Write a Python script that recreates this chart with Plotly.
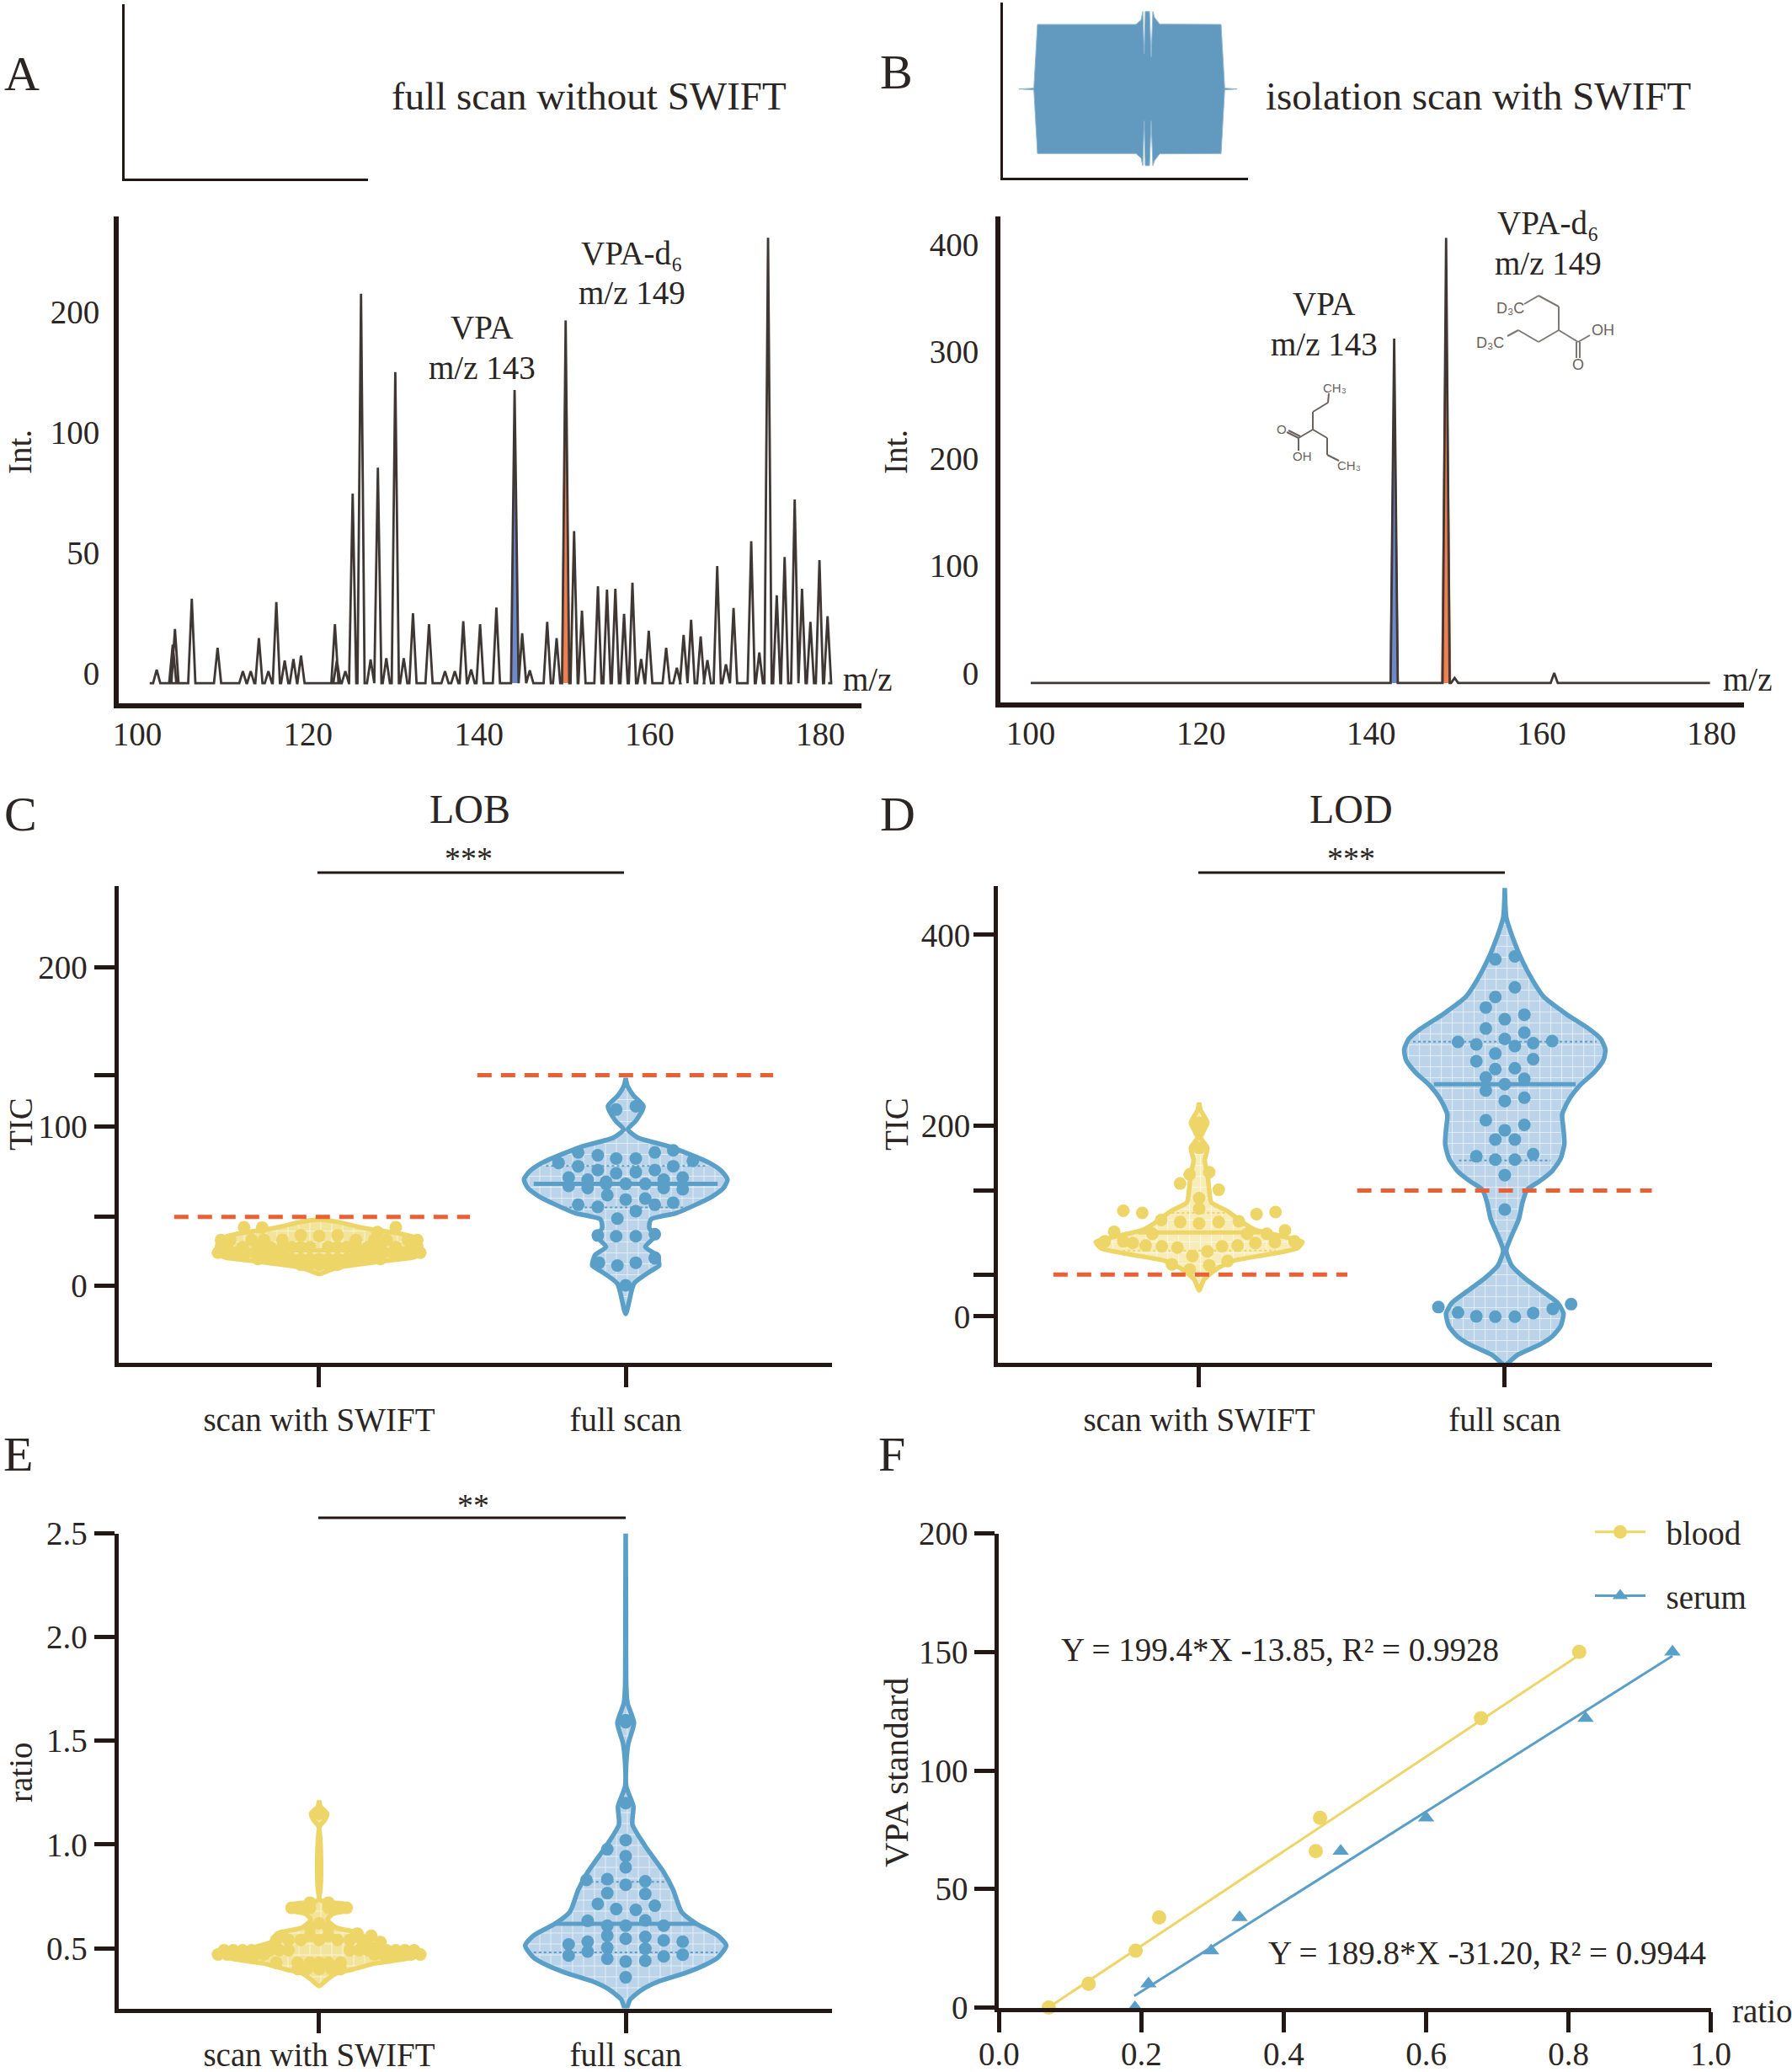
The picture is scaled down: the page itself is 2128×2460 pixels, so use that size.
#!/usr/bin/env python3
"""SWIFT scan figure: two spectra with insets, three violin panels, calibration lines."""

import plotly.graph_objects as go

W, H = 2128, 2460
FONT = "Liberation Serif"
INK = "#2b2523"
AXIS = "#231815"
YELLOW = "#eed568"
BLUE = "#5a9fc8"
ORANGE = "#ea5f34"

# panel A peaks (m/z as drawn, height on the drawn scale: tick 200 sits at 150)
a_mz = [102.27, 104.15, 104.41, 106.38, 109.40, 112.36, 113.28, 114.24, 115.35, 116.28,
        117.26, 118.28, 119.17, 123.14, 123.37, 124.36, 125.22, 126.20, 127.32, 128.17,
        129.16, 130.21, 131.20, 132.28, 134.16, 136.03, 137.18, 138.17, 139.09, 140.14,
        142.05, 144.18, 145.07, 145.96, 148.00, 149.10, 150.16, 151.15, 152.07, 153.94,
        155.00, 155.98, 157.00, 157.98, 159.00, 159.89, 161.93, 163.18, 163.97, 164.85,
        165.97, 166.76, 167.91, 168.93, 169.82, 171.89, 172.84, 173.86, 174.88, 175.80,
        176.98, 177.84, 178.82, 179.88, 180.83]
a_int = [1.4, 11.8, 18.3, 30.9, 10.5, 0.8, 0.8, 14.5, 0.8, 29.5,
         5.2, 5.8, 7.2, 20.3, 5.2, 0.8, 74.5, 157.4, 5.6, 85.2,
         6.2, 124.9, 6.2, 24.8, 20.3, 0.8, 0.8, 21.5, 1.5, 20.3,
         27.2, 117.5, 16.5, 1.1, 21.2, 14.5, 146.3, 58.9, 25.9, 36.0,
         34.6, 35.0, 24.6, 37.5, 5.8, 17.6, 10.5, 2.2, 15.8, 22.1,
         15.2, 5.4, 44.4, 3.6, 27.0, 54.7, 8.5, 180.7, 32.3, 48.2,
         72.0, 35.0, 21.2, 46.9, 23.6]
a_ticks = [100, 120, 140, 160, 180]
a_ytick_at = [0, 50, 100, 150]
a_ytick_text = ["0", "50", "100", "200"]

# panel B peaks
b_mz = [142.7, 148.8, 149.8, 161.5]
b_int = [312, 406, -4.7, 0]
b_yticks = [0, 100, 200, 300, 400]

# inset B waveform envelope
env_t = [21, 38.7, 43, 160, 166, 168, 169.7, 171, 176, 178, 180, 182, 188, 261, 265.3, 280]
env_up = [0, 1, 76.7, 76.7, 82, 92, 42, 92, 92, 38, 92, 85, 77, 76.7, 1, 0]
env_lo = [0, -1, -76.6, -76.6, -82, -91, -38, -91, -91, -38, -91, -85, -77, -76.6, -1, 0]

groups = ["scan with SWIFT", "full scan"]

# panel C, LOB
c_swift_y = [7.1, 11, 15, 17.6, 20.3, 25.5, 29.5, 32.1, 36, 40, 41.4]
c_swift_w = [0, .055, .2, .31, .332, .332, .319, .273, .146, .055, 0]
c_swift_off = [-.33, -.30, -.27, -.24, -.21, -.18, -.15, -.12, .12, .15, .18, .21, .24, .27, .30, .33,
               -.2, -.16, -.125, -.09, -.06, -.03, 0, .03, .06, .09, .125, .16, .2,
               -.06, -.03, 0, .03, .06,
               -.3, -.25, -.2, -.16, -.12, -.09, -.06, -.03, .03, .06, .09, .12, .16, .2, .25, .3,
               -.32, -.29, -.22, -.18, -.12, .12, .18, .22, .29, .32,
               -.06, 0, .06, -.245, -.186, .19, .25]
c_swift_val = [20.5] * 16 + [16.5] * 13 + [13] * 5 + [24] * 16 + [28.5] * 10 + \
              [31.5, 31, 31.5, 36.5, 36.3, 33.5, 36.5]
c_full_y = [-18, 1, 9, 12.4, 19, 24.2, 30.8, 36, 41.4, 45.3, 50.6, 55.8, 61.1, 66.4, 71.7,
            76.9, 82.2, 87.5, 92.7, 98, 103.3, 112.5, 119.1, 125.7, 130.2]
c_full_w = [0, .027, .082, .109, .1, .064, .095, .077, .082, .164, .228, .282, .319, .332, .313,
            .273, .21, .137, .04, .007, .033, .058, .026, .005, 0]
c_full_off = [0, -.087, -.027, .033, .095, .095, -.091, -.031, .033, .095, -.027, .033,
              -.155, -.091, 0, .064, .095, .155, -.06,
              -.186, -.124, -.064, 0, .064, .124, .186, -.186, -.124, -.064, .124, .186,
              -.155, -.091, -.031, .033, .095, .155,
              -.219, -.091, -.031, .033, .095, .155, .219, -.155, -.031, .033]
c_full_val = [0, 14.2, 12.4, 14.2, 16.9, 17.5, 31.3, 30.8, 30.8, 32.1, 41.9, 46.6,
              50.6, 49.3, 53.9, 54.5, 50.6, 51.9, 56.6,
              62.4, 61.1, 63.7, 63.7, 63.7, 61.1, 60.3, 67.7, 66.4, 65.1, 66.4, 67.7,
              74.8, 72.4, 70.4, 71.1, 72.4, 74.8,
              76.9, 81.7, 79.6, 79.6, 83.5, 84.8, 78.2, 83.5, 110.4, 112.5]
c_yticks = [0, 100, 200]
c_yminor = [43, 132]

# panel D, LOD
d_swift_y = [27.3, 38.3, 49.3, 58.1, 64.7, 71.3, 77.9, 84.4, 91, 99.8, 110.8, 119.6, 132.8,
             150.3, 163.5, 176.7, 187.7, 203.1, 216.2, 224.2]
d_swift_w = [0, .015, .055, .11, .219, .32, .338, .265, .183, .137, .091, .04, .033,
             .027, .018, .027, .005, .027, .005, 0]
d_swift_off = [0, 0, -.062, -.031, .033, .064, -.248, -.186, .188, .25,
               -.124, -.062, 0, .064, .13, -.278, -.153, .157, .281, .221,
               -.309, -.248, -.217, -.175, -.122, -.071, .075, .126, .184, .248, .312,
               -.022, .027, -.089, -.031, .033, .093, 0, 0, 0]
d_swift_val = [124, 113, 139.4, 149, 151.2, 132.8, 110.8, 108.6, 107.3, 109.5,
               101.1, 99, 97.6, 99, 99.8, 88.8, 86.7, 86.7, 90.2, 86.7,
               78.7, 78.7, 77, 74.4, 73.5, 72.2, 73.5, 74.4, 77, 77.9, 78.7,
               63.4, 68.2, 54.6, 49.3, 53.7, 58.1, 203.1, 176.7, 194]
d_full_y = [-50.8, -40.7, -29.8, -21, -10, 3.2, 14.2, 27.3, 40.5, 53.7, 69.1, 84.4, 102, 119.6,
            132.8, 141.6, 152.5, 165.7, 181.1, 196.5, 211.9, 227.2, 242.6, 255.8, 269, 279.9,
            291, 301.9, 317.3, 334.9, 352.4, 374.4, 400.8, 418.3, 449.1]
d_full_w = [0, .04, .113, .155, .183, .192, .173, .119, .064, .022, .005, .022, .046, .058,
            .073, .113, .155, .183, .195, .192, .188, .21, .247, .292, .323, .329,
            .314, .274, .2, .128, .091, .055, .022, .005, 0]
d_full_off = [-.031, .033, .033, -.031, -.062, .064, 0, -.062, .064, -.153, -.093, 0, .033, .093,
              .155, -.031, -.093, .093, -.031, .033, -.062, .064, 0, -.062, 0, .064, -.062, .064,
              0, -.031, .033, -.093, -.031, .033, .093, 0, 0,
              -.217, -.153, -.093, -.031, .033, .093, .157, .217]
d_full_val = [374.4, 377.5, 345, 334.9, 323.9, 316.4, 311.6, 301.9, 297.5, 287.8, 285.2, 290.9,
              283.5, 286.5, 288.7, 275.6, 267.6, 269.8, 259.3, 260.2, 250.5, 249.2, 243.5, 236.9,
              225.9, 229.4, 205.7, 200.9, 195.2, 185.5, 185.5, 167.9, 164.4, 164.4, 170.1, 148.2,
              112.1, 9.8, 4.1, .1, -.3, -.3, 3.6, 8, 12.9]
d_yticks = [0, 200, 400]
d_yminor = [44, 132]

# panel E, ratio
e_swift_y = [.318, .35, .379, .398, .427, .446, .465, .484, .503, .532, .571, .6, .638, .666,
             .685, .714, .733, 1.088, 1.117, 1.149, 1.184, 1.212]
e_swift_w = [0, .027, .055, .109, .182, .273, .319, .337, .219, .155, .137, .055, .027, .046,
             .1, .082, .004, .002, .018, .026, .004, 0]
e_swift_off = [-.09, -.06, -.03, .03, .06, .09, -.03, .03,
               -.31, -.28, -.25, -.22, -.19, -.16, -.13, -.1, .1, .13, .16, .19, .22, .25, .28, .31,
               -.33, -.3, -.27, -.24, -.21, -.18, .18, .21, .24, .27, .3, .33,
               -.14, -.1, -.06, 0, .06, .1, .14,
               -.12, -.03, .03, .12, .17, .2, .125,
               -.14, -.07, -.03, 0, .03, .07, -.07, -.04, 0, .04, .07, 0, -.03, .03, 0, 0]
e_swift_val = [.695] * 6 + [.72] * 2 + [.49] * 16 + [.47] * 12 + [.54] * 7 + \
              [.56, .56, .56, .56, .56, .53, .57] + [.43] * 6 + [.4] * 5 + [.62, .6, .6, 1.149, 1.15]
e_full_y = [.2, .254, .302, .341, .379, .417, .456, .513, .561, .618, .676, .781, .867, .992,
            1.097, 1.184, 1.28, 1.394, 1.49, 1.586, 1.682, 1.758, 2.14, 2.5]
e_full_w = [0, .015, .055, .109, .191, .255, .301, .328, .301, .231, .182, .155, .124, .064,
            .022, .025, .002, .002, .009, .027, .006, .002, .001, 0]
e_full_off = [0, -.06, 0, 0, -.128, -.06, .064, 0, -.06, .064, -.091, .095, -.031, .033, -.124,
              .064, -.06, 0, .124, -.06, 0, .064, .124, .186, -.186, -.124, -.06, .064, -.124,
              -.186, -.06, 0, .064, .124, .186, 0, 0, 0, 0]
e_full_val = [1.021, .977, .944, .89, .829, .833, .823, .806, .766, .762, .714, .705, .689, .685,
              .632, .634, .609, .609, .609, .561, .546, .555, .538, .532, .519, .532, .503, .498,
              .484, .465, .45, .436, .44, .461, .469, .36, 1.2, 1.59, 1.6]
e_yticks = [.5, 1, 1.5, 2, 2.5]
e_ytext = ["0.5", "1.0", "1.5", "2.0", "2.5"]

# panel F, calibration
blood_x = [.07, .126, .192, .225, .445, .451, .677, .815]
serum_x = [.191, .21, .298, .338, .48, .6, .824, .946]
standard_y = [0, 10, 24, 38, 66, 80, 122, 150]
blood_fit_x, blood_fit_y = [.07, .815], [.1, 148.7]
serum_fit_x, serum_fit_y = [.19, .946], [4.9, 148.3]
f_xticks = [0, .2, .4, .6, .8, 1]
f_xtext = ["0.0", "0.2", "0.4", "0.6", "0.8", "1.0"]
f_yticks = [0, 50, 100, 150, 200]

# line drawings of the two molecules, pixel positions on the page
VPA_BONDS = [
    [(1578, 467), (1577, 478), (1559, 489), (1559, 510), (1576, 520), (1576, 540), (1590, 547)],
    [(1559, 510), (1542, 520), (1542, 535)],
    [(1542, 520), (1528, 513)],
    [(1544, 518), (1530, 511)],
]
D6_BONDS = [
    [(1810, 361), (1827, 351), (1851, 364), (1851, 392), (1874, 406)],
    [(1790, 399), (1803, 392), (1827, 406), (1851, 392)],
    [(1874, 406), (1888, 398)],
    [(1872, 406), (1872, 425)],
    [(1876, 406), (1876, 425)],
]


def txt(fig, s, x, y, size=39, angle=0, color=INK, anchor="center", family=FONT):
    fig.add_annotation(text=s, x=x / W, y=1 - y / H, xref="paper", yref="paper", showarrow=False,
                       xanchor=anchor, yanchor="middle", textangle=angle,
                       font=dict(family=family, size=size, color=color))


def seg(fig, pts, color=AXIS, width=2.5):
    for (x0, y0), (x1, y1) in zip(pts[:-1], pts[1:]):
        fig.add_shape(type="line", xref="paper", yref="paper", x0=x0 / W, x1=x1 / W,
                      y0=1 - y0 / H, y1=1 - y1 / H, line=dict(color=color, width=width))


def set_axes(fig, i, left, right, top, bottom, xr, yr, lw=5, pin_zero=False, **kw):
    # plotly draws the axis line outside the domain, so pull the domain in by half a line
    shift = lw / 2
    if not pin_zero:
        x_per_px = (xr[1] - xr[0]) / (right - left)
        y_per_px = (yr[1] - yr[0]) / (bottom - top)
        xr = [xr[0] + shift * x_per_px, xr[1]]
        yr = [yr[0] + shift * y_per_px, yr[1]]
    left, bottom = left + shift, bottom - shift
    xa = dict(domain=[left / W, right / W], range=xr, anchor=f"y{i}", showgrid=False, zeroline=False,
              automargin=False, showline=True, linecolor=AXIS, linewidth=lw, ticks="outside", tickcolor=AXIS,
              tickwidth=4.5, ticklen=24, tickfont=dict(family=FONT, size=39, color=INK))
    ya = dict(domain=[1 - bottom / H, 1 - top / H], range=yr, anchor=f"x{i}", showgrid=False, zeroline=False,
              automargin=False, showline=True, linecolor=AXIS, linewidth=lw, ticks="outside", tickcolor=AXIS,
              tickwidth=4.5, ticklen=24, tickfont=dict(family=FONT, size=39, color=INK))
    xa.update(kw.get("x", {}))
    ya.update(kw.get("y", {}))
    fig.update_layout({f"xaxis{i}": xa, f"yaxis{i}": ya})


def spectrum(fig, i, mz, heights, base, half, start, end):
    xs, ys = [start], [base]
    for m, h in sorted(zip(mz, heights)):
        xs += [m - half, m, m + half]
        ys += [base, h, base]
    xs.append(end)
    ys.append(base)
    fig.add_trace(go.Scatter(x=xs, y=ys, mode="lines", line=dict(color="#3f3734", width=2.8),
                             showlegend=False, xaxis=f"x{i}", yaxis=f"y{i}", hoverinfo="skip"))


def filled_peak(fig, i, m, h, base, half, color):
    fig.add_trace(go.Scatter(x=[m - half, m, m + half], y=[base, h, base], mode="lines", fill="toself",
                             fillcolor=color, line=dict(color=color, width=1), showlegend=False,
                             xaxis=f"x{i}", yaxis=f"y{i}", hoverinfo="skip"))


def violin(fig, i, center, ys, ws, off, vals, color, fill, median=None, quart=()):
    xs = [center - w for w in ws] + [center + w for w in reversed(ws)]
    yy = list(ys) + list(reversed(ys))
    fig.add_trace(go.Scatter(x=xs, y=yy, mode="lines", fill="toself",
                             line=dict(color=color, width=5.5, shape="spline", smoothing=0.6),
                             fillpattern=dict(shape="+", size=13, solidity=0.12, fgcolor="#ffffff",
                                              bgcolor=fill, fgopacity=0.7),
                             showlegend=False, cliponaxis=False, xaxis=f"x{i}", yaxis=f"y{i}", hoverinfo="skip"))
    for q, w in quart:
        fig.add_trace(go.Scatter(x=[center - w, center + w], y=[q, q], mode="lines", cliponaxis=False,
                                 line=dict(color=color, width=2, dash="dot"), showlegend=False,
                                 xaxis=f"x{i}", yaxis=f"y{i}", hoverinfo="skip"))
    if median:
        fig.add_trace(go.Scatter(x=[center - median[1], center + median[1]], y=[median[0]] * 2, mode="lines",
                                 line=dict(color=color, width=5), showlegend=False, cliponaxis=False,
                                 xaxis=f"x{i}", yaxis=f"y{i}", hoverinfo="skip"))
    fig.add_trace(go.Scatter(x=[center + o for o in off], y=vals, mode="markers", cliponaxis=False,
                             marker=dict(color=color, size=15, line=dict(width=0)), showlegend=False,
                             xaxis=f"x{i}", yaxis=f"y{i}", hoverinfo="skip"))


def dashed(fig, i, x0, x1, y):
    fig.add_trace(go.Scatter(x=[x0, x1], y=[y, y], mode="lines", cliponaxis=False,
                             line=dict(color=ORANGE, width=5, dash="17px,11px"), showlegend=False,
                             xaxis=f"x{i}", yaxis=f"y{i}", hoverinfo="skip"))


fig = go.Figure()
fig.update_layout(width=W, height=H, margin=dict(l=0, r=0, t=0, b=0), autosize=False,
                  paper_bgcolor="white", plot_bgcolor="rgba(0,0,0,0)",
                  font=dict(family=FONT, color=INK),
                  legend=dict(x=1889 / W, y=1 - 1787 / H, xanchor="left", yanchor="top", itemwidth=60,
                              font=dict(family=FONT, size=39, color=INK), tracegroupgap=22,
                              bgcolor="rgba(0,0,0,0)", itemsizing="trace"))

# panels A and B, spectra
x_hidden = dict(ticks="", ticklen=0, ticklabelstandoff=-3)
set_axes(fig, 2, 138, 1023, 257, 838, [97.53, 184.8], [-13.6, 189.5], lw=6,
         x=dict(tickvals=a_ticks, **x_hidden),
         y=dict(tickvals=a_ytick_at, ticktext=a_ytick_text, ticklen=9, tickcolor="rgba(0,0,0,0)"))
filled_peak(fig, 2, a_mz[31], a_int[31], -4.2, 0.45, "#6f88c8")
filled_peak(fig, 2, a_mz[36], a_int[36], -4.2, 0.5, "#ee7f50")
spectrum(fig, 2, a_mz, a_int, -4.2, 0.42, 101.45, 180.9)

set_axes(fig, 3, 1185, 2071, 257, 837, [96.14, 183.8], [-29.9, 426], lw=6,
         x=dict(tickvals=a_ticks, **x_hidden),
         y=dict(tickvals=b_yticks, ticklen=12, tickcolor="rgba(0,0,0,0)"))
filled_peak(fig, 3, b_mz[0], b_int[0], -9.4, 0.5, "#6f88c8")
filled_peak(fig, 3, b_mz[1], b_int[1], -9.4, 0.55, "#ee7f50")
spectrum(fig, 3, b_mz, b_int, -9.4, 0.42, 100, 179.8)

# insets
no_ticks = dict(showticklabels=False, ticks="")
set_axes(fig, 8, 146, 437, 5, 213, [0, 1], [0, 1], lw=3, x=no_ticks, y=no_ticks)
fig.add_trace(go.Scatter(x=[None], y=[None], xaxis="x8", yaxis="y8", showlegend=False))
set_axes(fig, 9, 1189, 1482, 3, 212, [0, 293], [-106.3, 102.7], lw=3, x=no_ticks, y=no_ticks)
fig.add_trace(go.Scatter(x=env_t + env_t[::-1], y=env_up + env_lo[::-1], mode="lines", fill="toself",
                         fillcolor="#6299bf", line=dict(color="#8fb6d0", width=1), showlegend=False,
                         xaxis="x9", yaxis="y9", hoverinfo="skip"))

# panels C, D, E
cat_x = dict(tickvals=[1, 2], ticktext=groups, ticklabelstandoff=5)
minor_style = dict(ticks="outside", ticklen=24, tickwidth=4.5, tickcolor=AXIS)
set_axes(fig, 4, 138, 988, 1052, 1620.5, [0.338, 2.673], [-50, 250.8], x=cat_x,
         y=dict(tickvals=c_yticks, minor=dict(tickvals=c_yminor, **minor_style)))
violin(fig, 4, 1, c_swift_y, c_swift_w, c_swift_off, c_swift_val, YELLOW, "#f3e49c", median=(22, .33))
violin(fig, 4, 2, c_full_y, c_full_w, c_full_off, c_full_val, BLUE, "#bcd4e9", median=(63.7, .3),
       quart=[(75, .26), (49, .2)])
dashed(fig, 4, .527, 1.492, 43)
dashed(fig, 4, 1.516, 2.481, 132)

set_axes(fig, 5, 1182.6, 2033, 1052, 1620.5, [0.335, 2.678], [-50.8, 451.2], x=cat_x,
         y=dict(tickvals=d_yticks, ticklabelstandoff=-4, minor=dict(tickvals=d_yminor, **minor_style)))
violin(fig, 5, 1, d_swift_y, d_swift_w, d_swift_off, d_swift_val, YELLOW, "#f8ecb8", median=(88, .2),
       quart=[(108.6, .09), (69, .25)])
violin(fig, 5, 2, d_full_y, d_full_w, d_full_off, d_full_val, BLUE, "#bcd4e9", median=(243.5, .232),
       quart=[(288, .3), (163.5, .15)])
dashed(fig, 5, .523, 1.485, 44)
dashed(fig, 5, 1.517, 2.481, 132)

cat_e = dict(tickvals=[1, 2], ticktext=groups, ticklabelstandoff=-7)
set_axes(fig, 6, 138, 988, 1820.5, 2387, [0.338, 2.673], [.2, 2.5], x=cat_e,
         y=dict(tickvals=e_yticks, ticktext=e_ytext))
violin(fig, 6, 1, e_swift_y, e_swift_w, e_swift_off, e_swift_val, YELLOW, "#f3e49c")
violin(fig, 6, 2, e_full_y, e_full_w, e_full_off, e_full_val, BLUE, "#bcd4e9", median=(.618, .231),
       quart=[(.82, .13), (.48, .3)])

# panel F, both axes start at a labelled zero
set_axes(fig, 7, 1183.75, 2031.7, 1820.5, 2386, [0, 1], [0, 200], pin_zero=True,
         x=dict(tickvals=f_xticks, ticktext=f_xtext, ticklabelstandoff=-7),
         y=dict(tickvals=f_yticks))
fig.add_trace(go.Scatter(x=blood_fit_x, y=blood_fit_y, mode="lines", line=dict(color=YELLOW, width=3),
                         showlegend=False, xaxis="x7", yaxis="y7", cliponaxis=False, hoverinfo="skip"))
fig.add_trace(go.Scatter(x=serum_fit_x, y=serum_fit_y, mode="lines", line=dict(color=BLUE, width=3),
                         showlegend=False, xaxis="x7", yaxis="y7", cliponaxis=False, hoverinfo="skip"))
fig.add_trace(go.Scatter(x=blood_x, y=standard_y, mode="markers", marker=dict(color=YELLOW, size=17),
                         showlegend=False, xaxis="x7", yaxis="y7", cliponaxis=False, hoverinfo="skip"))
fig.add_trace(go.Scatter(x=serum_x, y=standard_y, mode="markers",
                         marker=dict(color=BLUE, size=17, symbol="triangle-up"),
                         showlegend=False, xaxis="x7", yaxis="y7", cliponaxis=False, hoverinfo="skip"))
fig.add_trace(go.Scatter(x=[None], y=[None], name="\u00a0\u00a0blood", legendgroup="blood", mode="lines+markers",
                         line=dict(color=YELLOW, width=3), marker=dict(color=YELLOW, size=17),
                         xaxis="x7", yaxis="y7"))
fig.add_trace(go.Scatter(x=[None], y=[None], name="\u00a0\u00a0serum", legendgroup="serum", mode="lines+markers",
                         line=dict(color=BLUE, width=3), marker=dict(color=BLUE, size=17, symbol="triangle-up"),
                         xaxis="x7", yaxis="y7"))

# panel letters
for s, x, y in [("A", 26, 88), ("B", 1064, 86), ("C", 24, 966), ("D", 1066, 966), ("E", 21, 1726), ("F", 1059, 1726)]:
    txt(fig, s, x, y, size=58)

# titles, axis names, peak labels
txt(fig, "full scan without SWIFT", 699, 114, size=47)
txt(fig, "isolation scan with SWIFT", 1755, 114, size=47)
txt(fig, "Int.", 24, 537, angle=-90)
txt(fig, "Int.", 1064, 537, angle=-90)
txt(fig, "m/z", 1030, 806)
txt(fig, "m/z", 2075, 806)
txt(fig, "VPA", 572, 388)
txt(fig, "m/z 143", 572, 436)
txt(fig, "VPA-d₆", 750, 300)
txt(fig, "m/z 149", 750, 347)
txt(fig, "VPA", 1572, 361)
txt(fig, "m/z 143", 1572, 408)
txt(fig, "VPA-d₆", 1838, 265)
txt(fig, "m/z 149", 1838, 312)
txt(fig, "LOB", 558, 960, size=48)
txt(fig, "LOD", 1604, 960, size=48)
txt(fig, "***", 556, 1019, size=38)
txt(fig, "***", 1604, 1019, size=38)
txt(fig, "**", 562, 1787, size=38)
txt(fig, "TIC", 24, 1335, angle=-90)
txt(fig, "TIC", 1064, 1335, angle=-90)
txt(fig, "ratio", 24, 2105, angle=-90)
txt(fig, "VPA standard", 1064, 2105, size=41, angle=-90)
txt(fig, "ratio", 2055, 2387, anchor="left")
txt(fig, "Y = 199.4*X -13.85, R² = 0.9928", 1520, 1958)
txt(fig, "Y = 189.8*X -31.20, R² = 0.9944", 1766, 2318)

# significance bars
seg(fig, [(377, 1036), (741, 1036)], width=3)
seg(fig, [(1423, 1036), (1787, 1036)], width=3)
seg(fig, [(378, 1802), (743, 1802)], width=3)

# molecules
for bond in VPA_BONDS:
    seg(fig, bond, color="#6b625e", width=2)
for bond in D6_BONDS:
    seg(fig, bond, color="#7d7875", width=2)
for s, x, y, size in [("CH₃", 1585, 460, 15), ("CH₃", 1602, 552, 15), ("O", 1522, 510, 15),
                      ("OH", 1546, 541, 15), ("D₃C", 1793, 366, 18), ("D₃C", 1769, 407, 18),
                      ("OH", 1903, 392, 18), ("O", 1874, 433, 18)]:
    txt(fig, s, x, y, size=size, color="#6b625e", family="Liberation Sans")

fig.write_html("out.html", config={"displayModeBar": False},
               post_script="document.body.style.margin='0';")
